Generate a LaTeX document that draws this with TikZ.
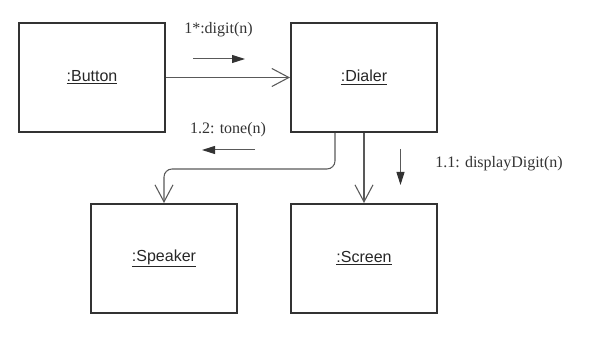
\documentclass[tikz,border=0pt]{standalone}
\usepackage{fontspec}
\setmainfont{Liberation Serif}
\setsansfont{Liberation Sans}
\usetikzlibrary{arrows.meta}
\definecolor{boxline}{HTML}{333333}
\definecolor{linkline}{HTML}{595959}
\tikzset{
  objbox/.style={draw=boxline, line width=1.5pt, minimum width=109.5pt,
    minimum height=81.75pt, inner sep=0pt, text=black!85,
    font=\sffamily\fontsize{12}{14}\selectfont},
  link/.style={draw=linkline, line width=0.8pt,
    -{Straight Barb[length=12.75pt,width=13.5pt]}},
  msg/.style={draw=linkline, line width=0.75pt,
    -{Triangle[length=9.75pt,width=6pt,color=boxline]}},
  msglabel/.style={font=\fontsize{12}{14}\selectfont, text=boxline, inner sep=0pt}
}

\begin{document}
\begin{tikzpicture}[x=0.75pt,y=-0.75pt]
  \useasboundingbox (0,0) rectangle (604,348);
  % objects
  \node[objbox] (button) at (92,77.5) {\underline{:Button}};
  \node[objbox] (dialer) at (364,77.5) {\underline{:Dialer}};
  \node[objbox] (speaker) at (164,258.5) {\underline{:Speaker}};
  \node[objbox] (screen) at (364,258.5) {\underline{:Screen}};
  % links
  \draw[link] (button) -- (dialer);
  \draw[link, rounded corners=6pt] ([xshift=-21.75pt]dialer.south) -- ++(0,36) -| (speaker.north);
  \draw[link] (dialer.south) -- (screen.north);
  % messages
  \node[msglabel] (digitlbl) at (218.5,30) {1*:digit(n)};
  \coordinate (digitA) at (193,59);
  \coordinate (digitB) at (245,59);
  \draw[msg] (digitA) -- (digitB);
  \node[msglabel] (tonelbl) at (228,130) {1.2: tone(n)};
  \coordinate (toneA) at (255,150);
  \coordinate (toneB) at (202,150);
  \draw[msg] (toneA) -- (toneB);
  \node[msglabel, anchor=west] (displbl) at (435,164) {1.1: displayDigit(n)};
  \coordinate (dispA) at (400.5,149);
  \coordinate (dispB) at (400.5,185);
  \draw[msg] (dispA) -- (dispB);
\end{tikzpicture}
\end{document}
